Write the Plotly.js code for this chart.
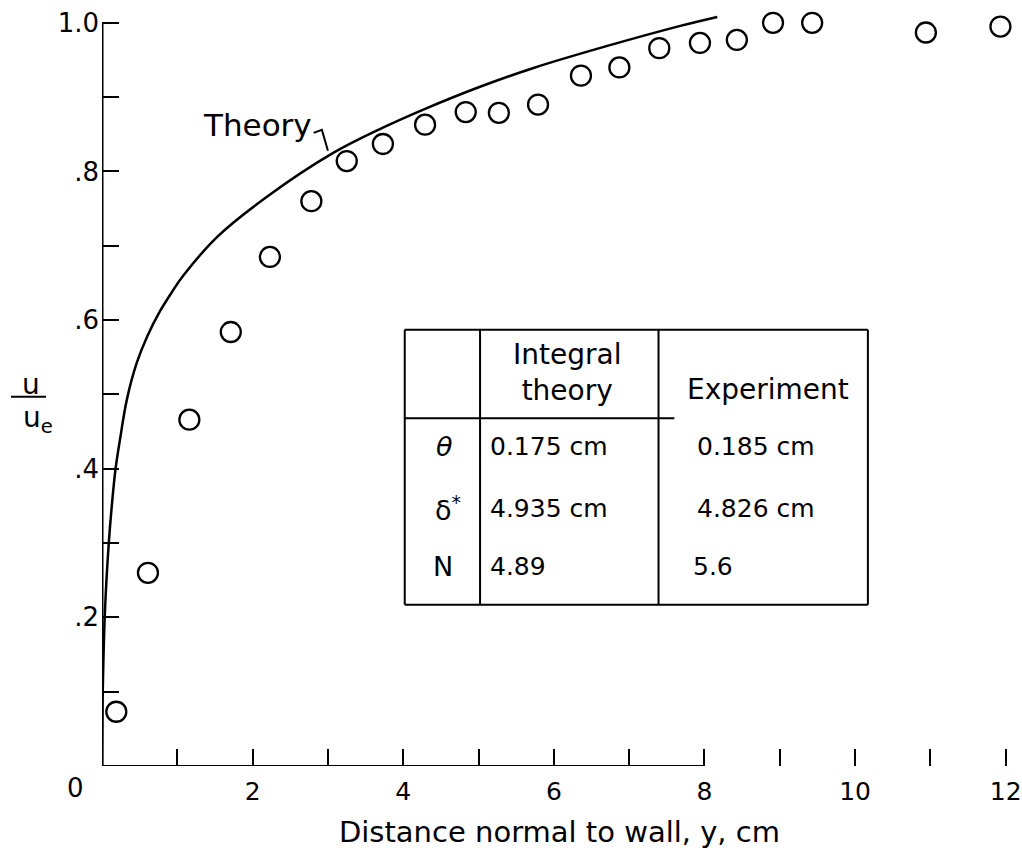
<!DOCTYPE html>
<html>
<head>
<meta charset="utf-8">
<script src="https://cdn.plot.ly/plotly-3.0.1.min.js"></script>
<style>html,body{margin:0;padding:0;background:#fff;}</style>
</head>
<body>
<div id="chart" style="width:1022px;height:860px;"></div>
<script>
// Experimental points (u/ue vs y, cm)
const expY_cm = [0.19, 0.61, 1.16, 1.71, 2.23, 2.78, 3.25, 3.73, 4.29, 4.83, 5.27, 5.79, 6.36, 6.87, 7.40, 7.94, 8.43, 8.91, 9.43, 10.94, 11.93];
const expU = [0.073, 0.260, 0.466, 0.584, 0.685, 0.760, 0.814, 0.837, 0.863, 0.880, 0.879, 0.890, 0.929, 0.940, 0.966, 0.973, 0.977, 1.0, 1.0, 0.987, 0.995];

// Theory curve
const theoryY_cm = [0, 0.01, 0.04, 0.09, 0.13, 0.18, 0.24, 0.33, 0.46, 0.60, 0.77, 0.93, 1.08, 1.53, 2.19, 3.07, 3.73, 4.26, 5.02, 5.72, 6.71, 7.68, 8.17];
const theoryU = [0, 0.10, 0.21, 0.30, 0.35, 0.40, 0.44, 0.493, 0.542, 0.578, 0.612, 0.638, 0.660, 0.712, 0.766, 0.825, 0.859, 0.883, 0.914, 0.939, 0.969, 0.996, 1.008];

// Tick labels
const xTickVals = [1,2,3,4,5,6,7,8,9,10,11,12];
const xTickText = ['', '2', '', '4', '', '6', '', '8', '', '10', '', '12'];
const yTickVals = [0.1,0.2,0.3,0.4,0.5,0.6,0.7,0.8,0.9,1.0];
const yTickText = ['', '.2', '', '.4', '', '.6', '', '.8', '', '1.0'];

// Inset table
const tableHeader = ['', 'Integral<br>theory', 'Experiment'];
const rowSymbols = ['<i>θ</i>', 'δ<sup>*</sup>', 'N'];
const integralTheory = ['0.175 cm', '4.935 cm', '4.89'];
const experiment = ['0.185 cm', '4.826 cm', '5.6'];

const FONT = 'DejaVu Sans, sans-serif';
const black = '#000';

const traces = [
  {
    x: theoryY_cm, y: theoryU, type: 'scatter', mode: 'lines',
    line: {color: black, width: 2.5, shape: 'spline', smoothing: 1},
    hoverinfo: 'skip', cliponaxis: false
  },
  {
    x: expY_cm, y: expU, type: 'scatter', mode: 'markers',
    marker: {symbol: 'circle-open', size: 20, color: black, line: {width: 2.3, color: black}},
    cliponaxis: false
  }
];

const ann = [];
const shapes = [];

// axis "0" label at origin
ann.push({x: 0, y: 0, xref: 'x', yref: 'y', text: '0', showarrow: false,
  xshift: -27, yshift: -22, font: {family: FONT, size: 26, color: black}});

// y-axis title as fraction u / u_e
ann.push({x: 0, y: 0.514, xref: 'x', yref: 'y', text: 'u', showarrow: false,
  xshift: -71, font: {family: FONT, size: 28, color: black}});
ann.push({x: 0, y: 0.466, xref: 'x', yref: 'y', text: 'u<sub>e</sub>', showarrow: false,
  xshift: -64, font: {family: FONT, size: 28, color: black}});
shapes.push({type: 'line', xref: 'paper', yref: 'y',
  x0: (11 - 102) / 915, x1: (46 - 102) / 915, y0: 0.497, y1: 0.497, line: {color: black, width: 2}});

// axis lines
shapes.push({type: 'line', xref: 'x', yref: 'y', x0: 0, x1: 0, y0: 0, y1: 1.0, line: {color: black, width: 3}});
shapes.push({type: 'line', xref: 'x', yref: 'y', x0: 0, x1: 8.0, y0: 0, y1: 0, line: {color: black, width: 2}});

// Theory label and hook
ann.push({x: 1.32, y: 0.863, xref: 'x', yref: 'y', xanchor: 'left', text: 'Theory', showarrow: false,
  font: {family: FONT, size: 31, color: black}});
shapes.push({type: 'path', xref: 'x', yref: 'y',
  path: 'M 2.81 0.852 L 2.92 0.856 L 3.00 0.828', line: {color: black, width: 2}});

// Table frame
const tL = 4.02, tC1 = 5.02, tC2 = 7.39, tR = 10.17;
const tTop = 0.587, tHead = 0.468, tBot = 0.217;
[[tL, tTop, tR, tTop], [tL, tBot, tR, tBot], [tL, tHead, 7.6, tHead],
 [tL, tTop, tL, tBot], [tC1, tTop, tC1, tBot], [tC2, tTop, tC2, tBot], [tR, tTop, tR, tBot]]
 .forEach(s => shapes.push({type: 'line', xref: 'x', yref: 'y', x0: s[0], y0: s[1], x1: s[2], y1: s[3],
   line: {color: black, width: 2}}));

// Table header text
ann.push({x: 6.17, y: 0.530, xref: 'x', yref: 'y', text: tableHeader[1], showarrow: false,
  align: 'center', font: {family: FONT, size: 28, color: black}});
ann.push({x: 8.84, y: 0.506, xref: 'x', yref: 'y', text: tableHeader[2], showarrow: false,
  font: {family: FONT, size: 28, color: black}});

const rowY = [0.430, 0.347, 0.268];
const symX = [4.55, 4.60, 4.53];
const col3X = [7.88, 7.88, 7.82];
for (let i = 0; i < 3; i++) {
  ann.push({x: symX[i], y: rowY[i], xref: 'x', yref: 'y', text: rowSymbols[i], showarrow: false,
    font: {family: FONT, size: 27, color: black}});
  ann.push({x: 5.12, y: rowY[i], xref: 'x', yref: 'y', xanchor: 'left', text: integralTheory[i], showarrow: false,
    font: {family: FONT, size: 25, color: black}});
  ann.push({x: col3X[i], y: rowY[i], xref: 'x', yref: 'y', xanchor: 'left', text: experiment[i], showarrow: false,
    font: {family: FONT, size: 25, color: black}});
}

const layout = {
  width: 1022, height: 860,
  margin: {l: 102, r: 5, t: 8, b: 94},
  paper_bgcolor: '#fff', plot_bgcolor: '#fff',
  showlegend: false,
  font: {family: FONT, size: 26, color: black},
  xaxis: {
    range: [0, 12.15], showgrid: false, zeroline: false, showline: false,
    tickmode: 'array', tickvals: xTickVals, ticktext: xTickText,
    ticks: 'inside', ticklen: 17, tickwidth: 2, tickcolor: black,
    ticklabelstandoff: 8, ticklabeloverflow: 'allow',
    tickfont: {family: FONT, size: 25, color: black},
    title: {text: 'Distance normal to wall, y, cm', font: {family: FONT, size: 29, color: black}, standoff: 16}
  },
  yaxis: {
    range: [0, 1.02], showgrid: false, zeroline: false, showline: false,
    tickmode: 'array', tickvals: yTickVals, ticktext: yTickText,
    ticks: 'inside', ticklen: 17, tickwidth: 2, tickcolor: black,
    ticklabelstandoff: 2,
    tickfont: {family: FONT, size: 26, color: black}
  },
  annotations: ann,
  shapes: shapes
};

Plotly.newPlot('chart', traces, layout, {displayModeBar: false, staticPlot: true});
</script>
</body>
</html>
